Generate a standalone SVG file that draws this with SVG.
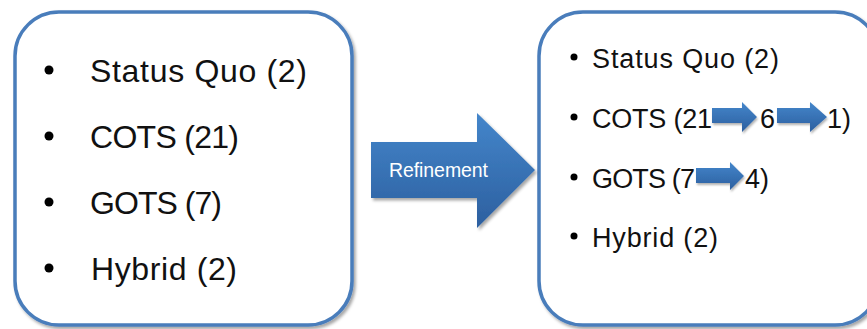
<svg xmlns="http://www.w3.org/2000/svg" width="867" height="329" viewBox="0 0 867 329">
  <defs>
    <linearGradient id="blueFill" x1="0" y1="0" x2="0" y2="1">
      <stop offset="0" stop-color="#4486cb"/>
      <stop offset="1" stop-color="#2c5f9f"/>
    </linearGradient>
    <filter id="shadow" x="-10%" y="-10%" width="125%" height="125%">
      <feDropShadow dx="2" dy="2.5" stdDeviation="1.8" flood-color="#000" flood-opacity="0.35"/>
    </filter>
    <filter id="softShadow" x="-10%" y="-20%" width="125%" height="150%">
      <feDropShadow dx="1" dy="2" stdDeviation="1.2" flood-color="#000" flood-opacity="0.3"/>
    </filter>
  </defs>
  <style>
    .box { fill: #ffffff; stroke: #4a7dbb; stroke-width: 3.5; }
    .item { font-family: "Liberation Sans", Arial, sans-serif; fill: #111; }
    .big { font-size: 32px; }
    .small { font-size: 27px; }
    .dot { fill: #000; }
    .step { fill: url(#blueFill); filter: url(#softShadow); }
    .label { font-family: "Liberation Sans", Arial, sans-serif; font-size: 19.5px; fill: #ffffff; }
  </style>

  <rect width="867" height="329" fill="#ffffff"/>

  <!-- Initial set of candidates -->
  <g id="before">
    <rect class="box" x="15" y="12" width="337" height="313" rx="44" filter="url(#shadow)"/>
    <circle class="dot" cx="49" cy="70" r="4.5"/>
    <text class="item big" x="90" y="82" textLength="217" lengthAdjust="spacing">Status Quo (2)</text>
    <circle class="dot" cx="49" cy="136" r="4.5"/>
    <text class="item big" x="90" y="148" textLength="149" lengthAdjust="spacing">COTS (21)</text>
    <circle class="dot" cx="49" cy="202" r="4.5"/>
    <text class="item big" x="90" y="214" textLength="132" lengthAdjust="spacing">GOTS (7)</text>
    <circle class="dot" cx="49" cy="268" r="4.5"/>
    <text class="item big" x="91" y="280" textLength="146" lengthAdjust="spacing">Hybrid (2)</text>
  </g>

  <!-- Refined set of candidates -->
  <g id="after">
    <rect class="box" x="539" y="12" width="340" height="313" rx="44" filter="url(#shadow)"/>
    <circle class="dot" cx="574" cy="57" r="3.5"/>
    <text class="item small" x="592" y="68" textLength="187" lengthAdjust="spacing">Status Quo (2)</text>
    <circle class="dot" cx="574" cy="117" r="3.5"/>
    <text class="item small" x="592" y="128" textLength="120" lengthAdjust="spacing">COTS (21</text>
    <polygon class="step" points="712,108 742,108 742,102 757,117 742,132 742,123 712,123"/>
    <text class="item small" x="760" y="128">6</text>
    <polygon class="step" points="777,108 810,108 810,102 827,117 810,132 810,123 777,123"/>
    <text class="item small" x="827" y="128">1)</text>
    <circle class="dot" cx="574" cy="177" r="3.5"/>
    <text class="item small" x="592" y="188" textLength="103" lengthAdjust="spacing">GOTS (7</text>
    <polygon class="step" points="696,168 730,168 730,162 744,176 730,190 730,183 696,183"/>
    <text class="item small" x="745" y="188">4)</text>
    <circle class="dot" cx="574" cy="236" r="3.5"/>
    <text class="item small" x="592" y="247" textLength="126" lengthAdjust="spacing">Hybrid (2)</text>
  </g>

  <!-- Block arrow between the two lists -->
  <g id="connectors">
    <g id="refinement">
      <polygon points="371,142 477,142 477,113 535,170 477,228 477,198 371,198" fill="url(#blueFill)" filter="url(#shadow)"/>
      <text class="label" x="389" y="177" textLength="99" lengthAdjust="spacing">Refinement</text>
    </g>
  </g>
</svg>
